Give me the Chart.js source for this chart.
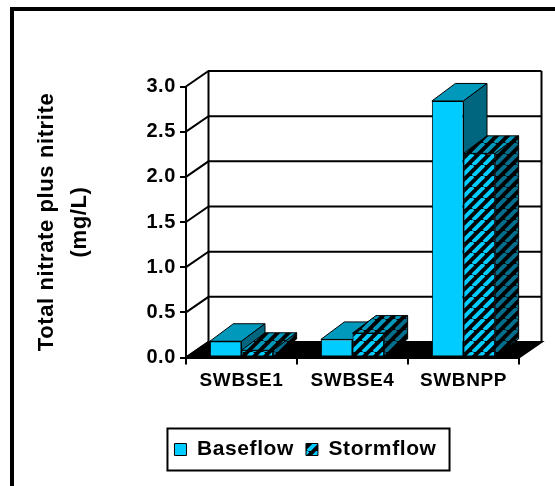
<!DOCTYPE html>
<html>
<head>
<meta charset="utf-8">
<style>
  html, body { margin: 0; padding: 0; background: #fff; overflow: hidden; }
  #wrap { position: relative; width: 555px; height: 486px; background: #fff; }
  canvas { display: block; }
</style>
<script src="https://cdn.jsdelivr.net/npm/chart.js@4/dist/chart.umd.min.js"></script>
</head>
<body>
<div id="wrap"><canvas id="chart" width="555" height="486"></canvas></div>
<script>
// Sampling sites and concentrations (mg/L)
const categories = ['SWBSE1', 'SWBSE4', 'SWBNPP'];
const baseflow = [0.18, 0.20, 2.84];
const stormflow = [0.08, 0.27, 2.26];
const yTickLabels = ['0.0', '0.5', '1.0', '1.5', '2.0', '2.5', '3.0'];
const seriesNames = ['Baseflow', 'Stormflow'];
const axisTitle = ['Total nitrate plus nitrite', '(mg/L)'];

const FONT = "'Liberation Sans', Arial, Helvetica, sans-serif";
const WALL = { dx: 22.5, dy: -15.5 };   // depth of the back wall / floor
const DEPTH = { dx: 23.5, dy: -17.5 };  // depth of each column

// diagonal "/" stripe fill
function stripes(bg, fg) {
  const s = 11;
  const c = document.createElement('canvas');
  c.width = s; c.height = s;
  const g = c.getContext('2d');
  g.fillStyle = bg;
  g.fillRect(0, 0, s, s);
  g.strokeStyle = fg;
  g.lineWidth = 4;
  g.beginPath();
  for (const x0 of [-s, 0, s]) {
    g.moveTo(x0, s);
    g.lineTo(x0 + s, 0);
  }
  g.stroke();
  return g.createPattern(c, 'repeat');
}

const stormFront = stripes('#000000', '#00CCFF');
const stormTop = stripes('#000000', '#0099BB');
const stormSide = stripes('#000000', '#006E8C');

function poly(ctx, pts, fill) {
  ctx.beginPath();
  ctx.moveTo(pts[0][0], pts[0][1]);
  for (let i = 1; i < pts.length; i++) ctx.lineTo(pts[i][0], pts[i][1]);
  ctx.closePath();
  ctx.fillStyle = fill;
  ctx.fill();
  ctx.stroke();
}

const spacing = '0.6px';

const threeD = {
  id: 'threeD',
  beforeUpdate(chart) {
    chart.ctx.letterSpacing = spacing;
  },
  afterLayout(chart) {
    // center the legend under the plot body
    const lg = chart.legend;
    const shift = 305.5 - (lg.left + lg.right) / 2;
    lg.left += shift;
    lg.right += shift;
  },
  beforeDraw(chart) {
    const ctx = chart.ctx;
    ctx.letterSpacing = spacing;
    ctx.save();
    ctx.strokeStyle = '#000';
    ctx.lineWidth = 4;
    ctx.strokeRect(12, 9, 700, 700);
    ctx.restore();
  },
  beforeDatasetsDraw(chart) {
    const ctx = chart.ctx;
    const { left, right, top, bottom } = chart.chartArea;
    const ys = chart.scales.y;
    ctx.save();
    ctx.strokeStyle = '#000';
    ctx.lineWidth = 2;
    // side wall diagonals and back wall grid lines
    ys.ticks.forEach(t => {
      const py = ys.getPixelForValue(t.value);
      ctx.beginPath();
      ctx.moveTo(left, py);
      ctx.lineTo(left + WALL.dx, py + WALL.dy);
      ctx.lineTo(right + WALL.dx, py + WALL.dy);
      ctx.stroke();
    });
    // back wall edges
    ctx.beginPath();
    ctx.moveTo(left + WALL.dx, top + WALL.dy);
    ctx.lineTo(left + WALL.dx, bottom + WALL.dy);
    ctx.moveTo(right + WALL.dx, top + WALL.dy);
    ctx.lineTo(right + WALL.dx, bottom + WALL.dy);
    ctx.stroke();
    // floor
    ctx.fillStyle = '#000';
    ctx.beginPath();
    ctx.moveTo(left, bottom);
    ctx.lineTo(right, bottom);
    ctx.lineTo(right + WALL.dx, bottom + WALL.dy);
    ctx.lineTo(left + WALL.dx, bottom + WALL.dy);
    ctx.closePath();
    ctx.fill();
    ctx.stroke();
    ctx.restore();

    // columns, series by series so later series sit in front
    chart.data.datasets.forEach((ds, i) => {
      const meta = chart.getDatasetMeta(i);
      if (meta.hidden) return;
      meta.data.forEach(el => {
        const { x, y, base, width } = el.getProps(['x', 'y', 'base', 'width'], true);
        const l = x - width / 2, r = x + width / 2;
        ctx.save();
        ctx.strokeStyle = '#000';
        ctx.lineWidth = 1;
        ctx.lineJoin = 'round';
        poly(ctx, [[l, y], [r, y], [r + DEPTH.dx, y + DEPTH.dy], [l + DEPTH.dx, y + DEPTH.dy]], ds.topFill);
        poly(ctx, [[r, y], [r + DEPTH.dx, y + DEPTH.dy], [r + DEPTH.dx, base + DEPTH.dy], [r, base]], ds.sideFill);
        ctx.restore();
        el.draw(ctx);
      });
    });
  },
  beforeDatasetDraw() {
    // columns are already drawn above
    return false;
  },
  afterDraw(chart) {
    // frame around the legend
    const hb = chart.legend.legendHitBoxes;
    if (!hb || !hb.length) return;
    const first = hb[0], last = hb[hb.length - 1];
    const cy = first.top + first.height / 2;
    const x0 = first.left - 7, x1 = last.left + last.width + 13;
    const ctx = chart.ctx;
    ctx.save();
    ctx.strokeStyle = '#000';
    ctx.lineWidth = 2;
    ctx.strokeRect(x0, cy - 21, x1 - x0, 42);
    ctx.restore();
  }
};

Chart.defaults.font.family = FONT;
Chart.defaults.color = '#000';

new Chart(document.getElementById('chart'), {
  type: 'bar',
  data: {
    labels: categories,
    datasets: [
      {
        label: seriesNames[0],
        data: baseflow,
        backgroundColor: '#00CCFF',
        topFill: '#0099BB',
        sideFill: '#006680',
        borderColor: '#000',
        borderWidth: 1,
        borderSkipped: false
      },
      {
        label: seriesNames[1],
        data: stormflow,
        backgroundColor: stormFront,
        topFill: stormTop,
        sideFill: stormSide,
        borderColor: '#000',
        borderWidth: 1,
        borderSkipped: false
      }
    ]
  },
  options: {
    responsive: false,
    animation: false,
    devicePixelRatio: 1,
    events: [],
    layout: { padding: { left: 20, right: 36, top: 86.5, bottom: 16 } },
    datasets: {
      bar: { categoryPercentage: 0.57, barPercentage: 1.0 }
    },
    scales: {
      x: {
        grid: { drawOnChartArea: false, drawTicks: true, tickLength: 7, color: '#000', lineWidth: 2, offset: true },
        border: { display: true, color: '#000', width: 2 },
        ticks: { font: { size: 19, weight: 'bold' }, color: '#000', padding: 5, maxRotation: 0 },
        afterFit(scale) { scale.height = 69.5; }
      },
      y: {
        min: 0,
        max: 3,
        ticks: {
          stepSize: 0.5,
          font: { size: 20, weight: 'bold' },
          color: '#000',
          padding: 4,
          callback: (v, i) => yTickLabels[i]
        },
        grid: { drawOnChartArea: false, drawTicks: true, tickLength: 6, color: '#000', lineWidth: 2 },
        border: { display: true, color: '#000', width: 2 },
        title: {
          display: true,
          text: axisTitle,
          color: '#000',
          font: { size: 22, weight: 'bold', lineHeight: 1.5 },
          padding: { top: 10.5, bottom: 0 }
        },
        afterFit(scale) { scale.width = 166; }
      }
    },
    plugins: {
      legend: {
        display: true,
        position: 'bottom',
        labels: {
          boxWidth: 12,
          boxHeight: 12,
          padding: 12,
          color: '#000',
          font: { size: 21, weight: 'bold' }
        }
      },
      tooltip: { enabled: false }
    }
  },
  plugins: [threeD]
});
</script>
</body>
</html>
